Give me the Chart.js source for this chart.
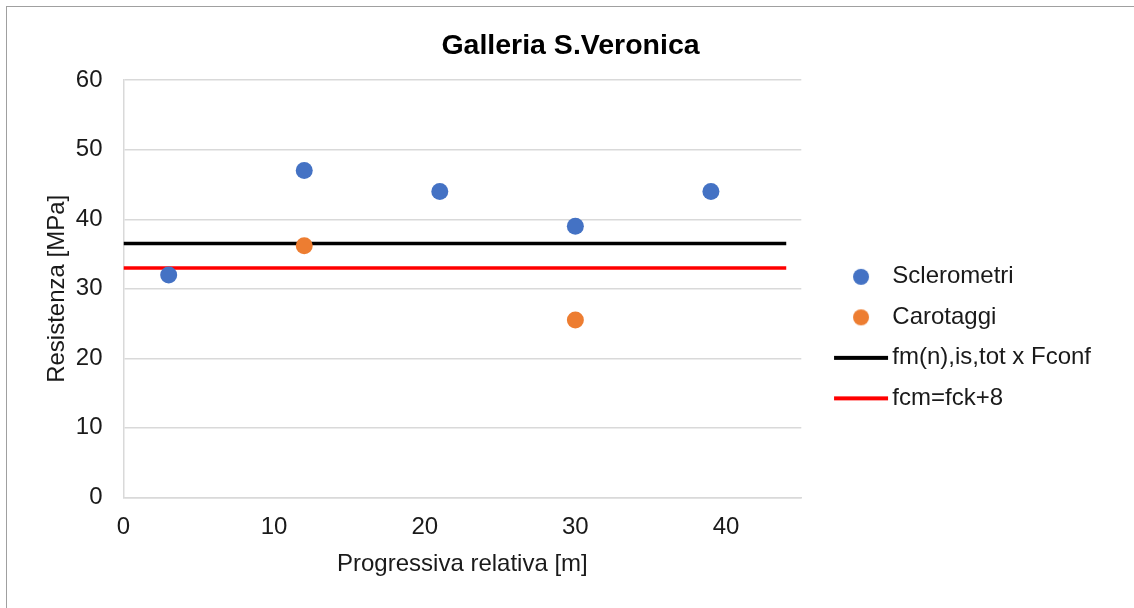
<!DOCTYPE html>
<html>
<head>
<meta charset="utf-8">
<title>Galleria S.Veronica</title>
<script src="https://cdn.jsdelivr.net/npm/chart.js@4"></script>
<style>
  html, body { margin: 0; padding: 0; background: #fff; }
  #wrap { position: relative; width: 1134px; height: 608px; }
  #frame { position: absolute; left: 6px; top: 6px; right: -2px; bottom: -2px; border-left: 1px solid #a0a0a0; border-top: 1px solid #a0a0a0; }
  canvas { position: absolute; left: 0; top: 0; }
</style>
</head>
<body>
<div id="wrap">
  <div id="frame"></div>
  <canvas id="grafico" width="1134" height="608"></canvas>
</div>
<script>
// valori misurati lungo la galleria
const progressivaSclerometri = [3, 12, 21, 30, 39];
const resistenzaSclerometri = [32, 47, 44, 39, 44];
const progressivaCarotaggi = [12, 30];
const resistenzaCarotaggi = [36.2, 25.5];

// rette di riferimento (inizio e fine tratto)
const estremiRette = [0, 44];
const fmConf = 36.5;
const fcm = 33;

const xTicks = [0, 10, 20, 30, 40];
const yTicks = [0, 10, 20, 30, 40, 50, 60];

const nomi = ["Sclerometri", "Carotaggi", "fm(n),is,tot x Fconf", "fcm=fck+8"];

const toPoints = (xs, ys) => xs.map((x, i) => ({ x: x, y: ys[i] }));
const retta = (v) => estremiRette.map(x => ({ x: x, y: v }));

// icone della legenda (disegnate nella parte destra della canvas)
function iconaPunto(color) {
  const c = document.createElement("canvas");
  c.width = 84; c.height = 18;
  const g = c.getContext("2d");
  g.fillStyle = color;
  g.beginPath();
  g.arc(54, 9, 8, 0, Math.PI * 2);
  g.fill();
  return c;
}
function iconaLinea(color) {
  const c = document.createElement("canvas");
  c.width = 84; c.height = 18;
  const g = c.getContext("2d");
  g.fillStyle = color;
  g.fillRect(27, 7, 54, 4);
  return c;
}

const blu = "#4472C4";
const arancio = "#ED7D31";
const icone = [iconaPunto(blu), iconaPunto(arancio), iconaLinea("#000000"), iconaLinea("#FF0000")];

const testo = "#1a1a1a";
const griglia = "#d9d9d9";
const famiglia = "Liberation Sans, Arial, sans-serif";

new Chart(document.getElementById("grafico"), {
  type: "scatter",
  data: {
    datasets: [
      {
        label: nomi[0],
        data: toPoints(progressivaSclerometri, resistenzaSclerometri),
        backgroundColor: blu,
        borderColor: blu,
        borderWidth: 0,
        pointRadius: 8.5
      },
      {
        label: nomi[1],
        data: toPoints(progressivaCarotaggi, resistenzaCarotaggi),
        backgroundColor: arancio,
        borderColor: arancio,
        borderWidth: 0,
        pointRadius: 8.5
      },
      {
        label: nomi[2],
        type: "line",
        data: retta(fmConf),
        borderColor: "#000000",
        backgroundColor: "#000000",
        borderWidth: 3.5,
        pointRadius: 0
      },
      {
        label: nomi[3],
        type: "line",
        data: retta(fcm),
        borderColor: "#FF0000",
        backgroundColor: "#FF0000",
        borderWidth: 3.5,
        pointRadius: 0
      }
    ]
  },
  options: {
    responsive: false,
    animation: false,
    layout: { padding: { left: 40, right: 33, top: 0, bottom: 32 } },
    plugins: {
      tooltip: { enabled: false },
      title: {
        display: true,
        text: "Galleria S.Veronica",
        color: "#000",
        font: { family: famiglia, size: 28.5, weight: "bold" },
        padding: { top: 29, bottom: 17 }
      },
      legend: {
        position: "right",
        maxWidth: 400,
        // titolo vuoto usato solo per abbassare il blocco della legenda
        title: { display: true, text: "", font: { size: 1 }, padding: { top: 98, bottom: 0 } },
        labels: {
          color: testo,
          font: { family: famiglia, size: 24 },
          usePointStyle: true,
          pointStyleWidth: 62.5,
          padding: 16.5,
          generateLabels: (chart) => chart.data.datasets.map((ds, i) => ({
            text: ds.label,
            pointStyle: icone[i],
            fillStyle: ds.backgroundColor,
            strokeStyle: ds.borderColor,
            lineWidth: 0,
            hidden: false,
            datasetIndex: i,
            fontColor: testo
          }))
        }
      }
    },
    scales: {
      x: {
        type: "linear",
        min: 0,
        max: 45,
        afterBuildTicks: (axis) => { axis.ticks = xTicks.map(v => ({ value: v })); },
        grid: { display: false, drawTicks: false },
        border: { display: true, color: griglia, width: 1.5 },
        ticks: {
          color: testo,
          padding: 16,
          font: { family: famiglia, size: 24 }
        },
        title: {
          display: true,
          text: "Progressiva relativa [m]",
          color: testo,
          padding: { top: -8, bottom: -3 },
          font: { family: famiglia, size: 24 }
        }
      },
      y: {
        min: 0,
        max: 60,
        afterBuildTicks: (axis) => { axis.ticks = yTicks.map(v => ({ value: v })); },
        grid: { color: griglia, lineWidth: 1.5, drawTicks: false },
        border: { display: true, color: griglia, width: 1.5 },
        ticks: {
          color: testo,
          padding: 21,
          font: { family: famiglia, size: 24 }
        },
        title: {
          display: true,
          text: "Resistenza [MPa]",
          color: testo,
          padding: { top: 3, bottom: -17 },
          font: { family: famiglia, size: 24 }
        }
      }
    }
  }
});
</script>
</body>
</html>
